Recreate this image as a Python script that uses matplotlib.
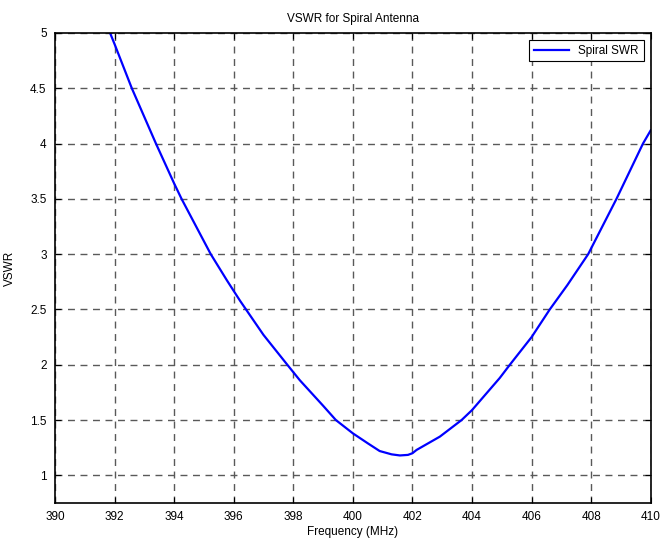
import matplotlib
matplotlib.use("Agg")
import matplotlib.pyplot as plt

plt.rcParams['font.family'] = ['Liberation Sans', 'DejaVu Sans']
plt.rcParams['font.size'] = 8.5

# frecuencia (MHz) y VSWR
freq = [391.85, 392.0, 392.58, 393.39, 394.0, 394.25, 395.23, 395.78, 396.21, 397.0,
        397.8, 398.22, 399.0, 399.43, 400.0, 400.5, 400.9, 401.3, 401.58, 401.85,
        402.0, 402.14, 402.92, 403.65, 404.0, 404.93, 405.27, 406.0, 406.61, 407.2,
        407.9, 408.85, 409.74, 410.0]
vswr = [5.0, 4.9, 4.5, 4.0, 3.64, 3.5, 3.0, 2.76, 2.58, 2.27,
        2.0, 1.86, 1.63, 1.5, 1.38, 1.29, 1.22, 1.19, 1.18, 1.185,
        1.2, 1.23, 1.35, 1.5, 1.59, 1.88, 2.0, 2.25, 2.5, 2.72,
        3.0, 3.5, 4.0, 4.12]

xticks = list(range(390, 411, 2))
yticks = [1, 1.5, 2, 2.5, 3, 3.5, 4, 4.5, 5]
ytick_labels = ['1', '1.5', '2', '2.5', '3', '3.5', '4', '4.5', '5']

fig = plt.figure(figsize=(6.62, 5.40), dpi=100)
ax = fig.add_axes([0.083, 0.0685, 0.9, 0.8705])

ax.plot(freq, vswr, color='#0000ff', linewidth=1.6, label='Spiral SWR')

ax.set_xlim(390, 410)
ax.set_ylim(0.75, 5)
ax.set_xticks(xticks)
ax.set_yticks(yticks)
ax.set_yticklabels(ytick_labels)
ax.tick_params(direction='in', top=True, right=True, length=4, width=0.8, pad=6)

ax.grid(True, color='0.35', linestyle=(0, (5, 4)), linewidth=1.0)
ax.set_axisbelow(True)
for s in ax.spines.values():
    s.set_linewidth(1.2)

ax.set_title("VSWR for Spiral Antenna", fontsize=8.5, pad=8)
ax.set_xlabel("Frequency (MHz)", labelpad=2)
ax.set_ylabel("VSWR", labelpad=10)

leg = ax.legend(loc='upper right', fancybox=False, edgecolor='black', framealpha=1,
                handlelength=3, borderaxespad=0.6)
leg.get_frame().set_linewidth(0.8)

fig.savefig("out.png", dpi=100)
